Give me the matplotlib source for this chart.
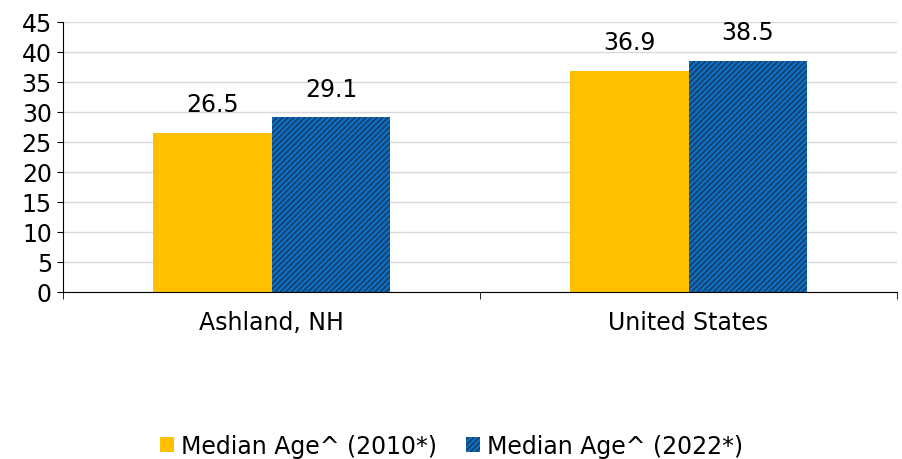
import numpy as np
import matplotlib.pyplot as plt
from matplotlib.patches import Patch
import matplotlib as mpl

categories = ['Ashland, NH', 'United States']
age_2010 = [26.5, 36.9]
age_2022 = [29.1, 38.5]
series_names = ['Median Age^ (2010*)', 'Median Age^ (2022*)']

mpl.rcParams['hatch.linewidth'] = 1.1
plt.rcParams['font.family'] = ['DejaVu Sans']

fig = plt.figure(figsize=(9.03, 4.6), dpi=100)
ax = fig.add_axes([63 / 903, 1 - 293 / 460, (897 - 63) / 903, (293 - 23) / 460])

x = np.arange(len(categories))
w = 0.285
yellow = '#FFC000'
blue = '#0A70C0'
navy = '#1B3A66'

b1 = ax.bar(x - w / 2, age_2010, w, color=yellow, zorder=2)
b2 = ax.bar(x + w / 2, age_2022, w, color=blue, edgecolor=navy, hatch='//////', linewidth=0, zorder=2)

for bars, vals in [(b1, age_2010), (b2, age_2022)]:
    for b, v in zip(bars, vals):
        ax.annotate(f'{v:.1f}', (b.get_x() + b.get_width() / 2, v), xytext=(0, 12),
                    textcoords='offset points', ha='center', va='bottom', fontsize=17)

ax.set_xlim(-0.5, 1.5)
ax.set_ylim(0, 45)
ax.set_yticks(range(0, 46, 5))
ax.tick_params(axis='y', labelsize=17, length=4, direction='out', pad=4)
ax.set_xticks(x)
ax.set_xticklabels(categories, fontsize=17)
ax.tick_params(axis='x', length=0, pad=13)
ax.set_xticks([-0.5, 0.5, 1.5], minor=True)
ax.tick_params(axis='x', which='minor', length=5, direction='out')

ax.grid(axis='y', color='#d9d9d9', linewidth=1, zorder=0)
ax.set_axisbelow(True)
for s in ['top', 'right']:
    ax.spines[s].set_visible(False)
ax.spines['left'].set_color('black')
ax.spines['bottom'].set_color('black')

handles = [Patch(facecolor=yellow, label=series_names[0]),
           Patch(facecolor=blue, edgecolor=navy, hatch='//////', linewidth=0, label=series_names[1])]
fig.legend(handles=handles, loc='center', bbox_to_anchor=(0.5, 1 - 447 / 460), ncol=2,
           frameon=False, fontsize=17, handlelength=0.6, handleheight=0.6,
           handletextpad=0.3, columnspacing=1.2)

fig.savefig('out.png', dpi=100)
